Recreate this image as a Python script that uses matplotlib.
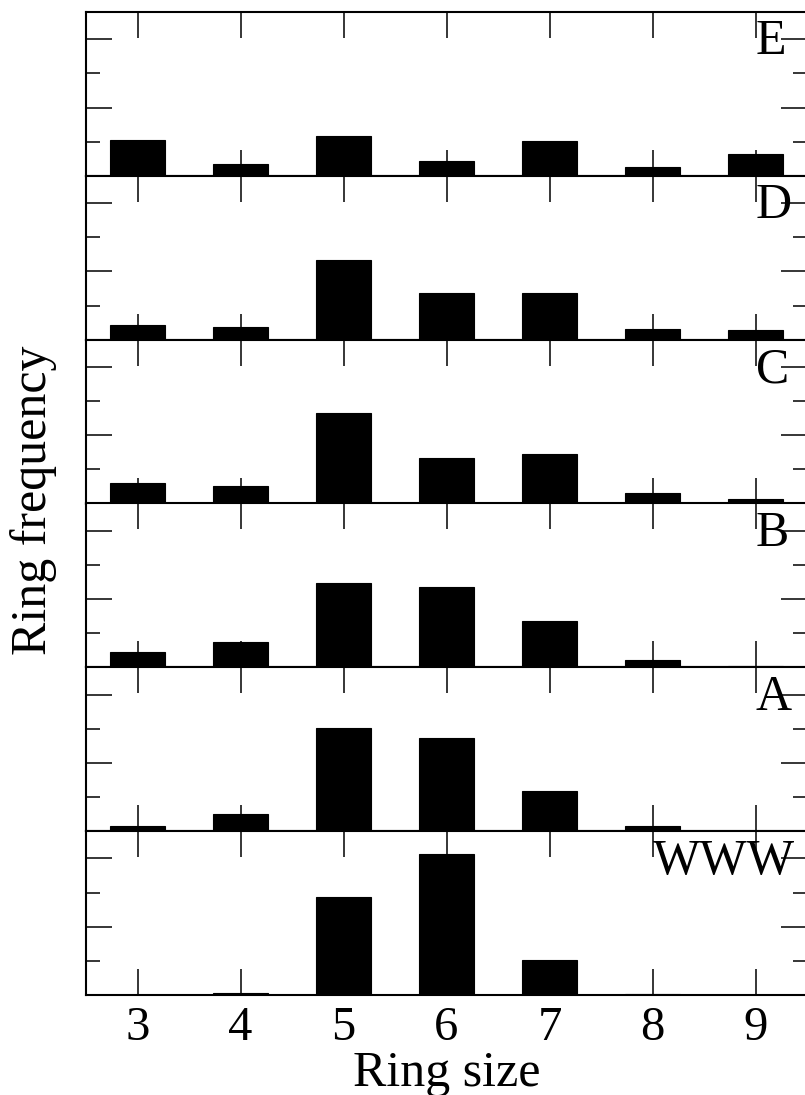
import matplotlib
matplotlib.use("Agg")
import matplotlib.pyplot as plt
from matplotlib.ticker import MultipleLocator
import matplotlib.transforms as mtransforms

plt.rcParams['font.family'] = ['Liberation Serif', 'DejaVu Serif']

ring_sizes = [3, 4, 5, 6, 7, 8, 9]
panel_names = ["E", "D", "C", "B", "A", "WWW"]
freq_E = [0.053, 0.017, 0.059, 0.022, 0.051, 0.013, 0.032]
freq_D = [0.022, 0.019, 0.116, 0.069, 0.069, 0.016, 0.014]
freq_C = [0.030, 0.025, 0.132, 0.066, 0.073, 0.015, 0.007]
freq_B = [0.022, 0.037, 0.123, 0.117, 0.068, 0.011, 0.002]
freq_A = [0.007, 0.025, 0.151, 0.137, 0.059, 0.008, 0.000]
freq_WWW = [0.000, 0.003, 0.144, 0.207, 0.051, 0.0015, 0.000]
label_x = [9, 9, 9, 9, 9, 8]

panel_values = [freq_E, freq_D, freq_C, freq_B, freq_A, freq_WWW]

FW, FH = 805, 1095
fig = plt.figure(figsize=(FW / 100, FH / 100), dpi=100)

left_px, right_px = 86, 807
top_px, bot_px = 12, 995
ph = (bot_px - top_px) / 6

axes = []
for i, (name, vals, lx) in enumerate(zip(panel_names, panel_values, label_x)):
    y_top = top_px + i * ph
    rect = [left_px / FW, 1 - (y_top + ph) / FH, (right_px - left_px) / FW, ph / FH]
    ax = fig.add_axes(rect)
    ax.bar(ring_sizes, vals, width=0.54, color='black', edgecolor='black', linewidth=0.8)
    ax.set_xlim(2.5, 9.5)
    ax.set_ylim(0, 0.24)
    ax.set_xticks(ring_sizes)
    ax.yaxis.set_major_locator(MultipleLocator(0.1))
    ax.yaxis.set_minor_locator(MultipleLocator(0.05))
    ax.tick_params(axis='both', which='both', direction='in', top=True, right=True,
                   width=1.1, labelleft=False)
    ax.tick_params(axis='both', which='major', length=18.7)
    ax.tick_params(axis='both', which='minor', length=10)
    for sp in ax.spines.values():
        sp.set_linewidth(1.5)
    if i < 5:
        ax.tick_params(labelbottom=False)
    else:
        ax.set_xticklabels([str(v) for v in ring_sizes], fontsize=35)
        ax.tick_params(axis='x', pad=8)
        ax.set_xlabel("Ring size", fontsize=36, labelpad=0)
    trans = mtransforms.blended_transform_factory(ax.transData, ax.transAxes)
    ax.text(lx, 1 - 7 / ph, name, transform=trans, ha='left', va='top', fontsize=36)
    axes.append(ax)

fig.text(34 / FW, 1 - 500 / FH, "Ring frequency", rotation=90, ha='center', va='center',
         fontsize=36)

fig.savefig("out.png", dpi=100)
